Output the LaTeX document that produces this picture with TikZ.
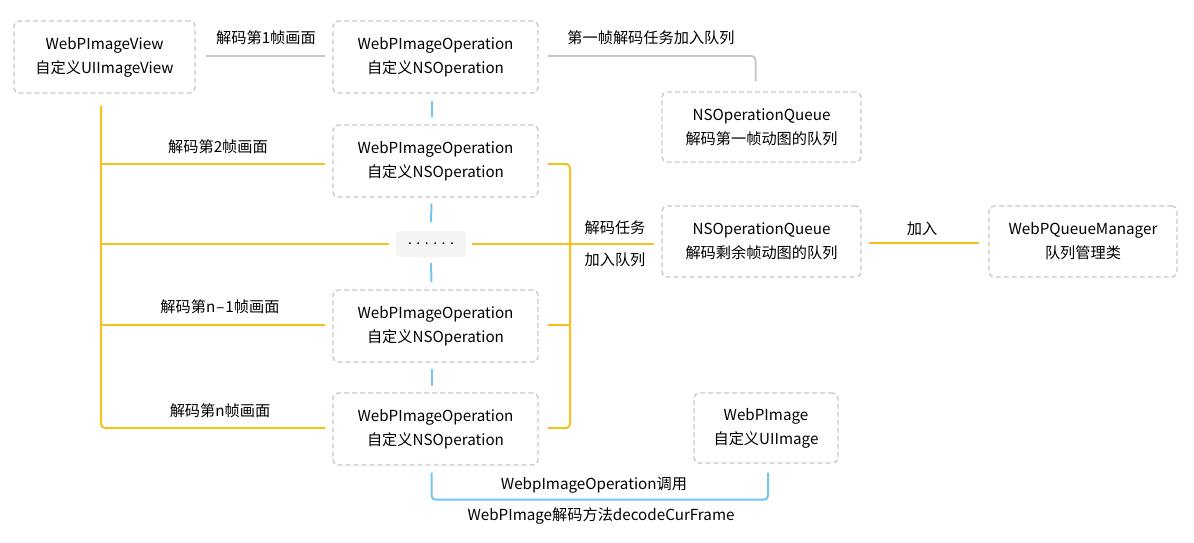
\documentclass[tikz,border=0pt]{standalone}
\usepackage{fontspec}
\setmainfont{Noto Sans CJK SC}
\usetikzlibrary{calc}
\definecolor{boxgray}{HTML}{C9C9C9}
\definecolor{linegray}{HTML}{C8C8C8}
\definecolor{yel}{HTML}{F8C01D}
\definecolor{blu}{HTML}{74C5F0}
\definecolor{dotfill}{HTML}{F4F4F4}
\begin{document}
\begin{tikzpicture}[x=1pt,y=-1pt,
  box/.style={draw=boxgray, dash pattern=on 5pt off 3pt, line width=1.4pt, rounded corners=5pt,
    align=center, font=\fontsize{15.2}{24}\selectfont, inner sep=0pt},
  lbl/.style={font=\fontsize{15.2}{18}\selectfont, inner sep=0pt, align=center},
  gline/.style={draw=linegray, line width=2pt},
  yline/.style={draw=yel, line width=2pt},
  bline/.style={draw=blu, line width=2pt}]
\useasboundingbox (0,0) rectangle (1194,543);
% boxes
\node[box, minimum width=181, minimum height=72] (A) at (104.5,57) {WebPImageView\\自定义UIImageView};
\node[box, minimum width=205, minimum height=72] (op1) at (435.5,57) {WebPImageOperation\\自定义NSOperation};
\node[box, minimum width=199, minimum height=70] (q1) at (761.5,127) {NSOperationQueue\\解码第一帧动图的队列};
\node[box, minimum width=205, minimum height=72] (op2) at (435.5,161) {WebPImageOperation\\自定义NSOperation};
\node[fill=dotfill, rounded corners=4pt, minimum width=70, minimum height=26, inner sep=0pt,
  font=\fontsize{14}{18}\selectfont] (dots) at (431,244) {.\hspace{4.5pt}.\hspace{4.5pt}.\hspace{4.5pt}.\hspace{4.5pt}.\hspace{4.5pt}.};
\node[box, minimum width=205, minimum height=72] (op3) at (435.5,326) {WebPImageOperation\\自定义NSOperation};
\node[box, minimum width=205, minimum height=72] (op4) at (435.5,429) {WebPImageOperation\\自定义NSOperation};
\node[box, minimum width=199, minimum height=71] (q2) at (761.5,241.5) {NSOperationQueue\\解码剩余帧动图的队列};
\node[box, minimum width=188, minimum height=71] (mgr) at (1083,241.5) {WebPQueueManager\\队列管理类};
\node[box, minimum width=144, minimum height=70] (img) at (766,428) {WebPImage\\自定义UIImage};
% gray connectors
\draw[gline] ($(A.east)+(10,-1)$) -- ($(op1.west)+(-7,-1)$);
\node[lbl] (l1) at (266,38) {解码第1帧画面};
\draw[gline, rounded corners=4pt] ($(op1.east)+(9,-1)$) -| ($(q1.north)+(-6,-10)$);
\node[lbl] (l2) at (651,38) {第一帧解码任务加入队列};
% blue dashes between operations
\draw[bline] ($(op1.south)+(-4,7)$) -- ($(op2.north)+(-4,-7)$);
\draw[bline] ($(op2.south)+(-4,6)$) -- ($(dots.north)+(0,-9)$);
\draw[bline] ($(dots.south)+(0,6)$) -- ($(op3.north)+(-4,-7)$);
\draw[bline] ($(op3.south)+(-4,6)$) -- ($(op4.north)+(-4,-6)$);
% yellow tree left
\coordinate (trunk) at ($(A.south)+(-3.5,12)$);
\draw[yline, rounded corners=4pt] (trunk) |- ($(op4.west)+(-7,-1)$);
\coordinate (t2) at (trunk |- 0,164);
\coordinate (t3) at (trunk |- 0,244);
\coordinate (t4) at (trunk |- 0,325);
\draw[yline] (t2) -- ($(op2.west)+(-7,3)$);
\draw[yline] (t3) -- ($(dots.west)+(-7,0)$);
\draw[yline] (t4) -- ($(op3.west)+(-7,-1)$);
\node[lbl] (l3) at (218,147) {解码第2帧画面};
\node[lbl] (l4) at (220,307) {解码第n\kern1pt–\kern1pt1帧画面};
\node[lbl] (l5) at (220,411) {解码第n帧画面};
% yellow right bracket
\coordinate (rb) at (570,164);
\draw[yline, rounded corners=4pt] ($(op2.east)+(9,3)$) -- (rb) -- (rb |- 0,428) -- ($(op4.east)+(9,-1)$);
\draw[yline] ($(op3.east)+(9,-1)$) -- (rb |- 0,325);
\draw[yline] ($(dots.east)+(6,0)$) -- ($(q2.west)+(-7,2.5)$);
\node[lbl] (l6) at (615,228) {解码任务};
\node[lbl] (l7) at (615,260) {加入队列};
\draw[yline] ($(q2.east)+(7,1.5)$) -- ($(mgr.west)+(-9,1.5)$);
\node[lbl] (l8) at (922,229) {加入};
% blue bracket
\draw[bline, rounded corners=4pt] ($(op4.south)+(-4,7)$) -- ++(0,27) -| ($(img.south)+(2,9)$);
\node[lbl] (l9) at (594,485) {WebpImageOperation调用};
\node[lbl] (l10) at (601,516) {WebPImage解码方法decodeCurFrame};
\end{tikzpicture}
\end{document}
